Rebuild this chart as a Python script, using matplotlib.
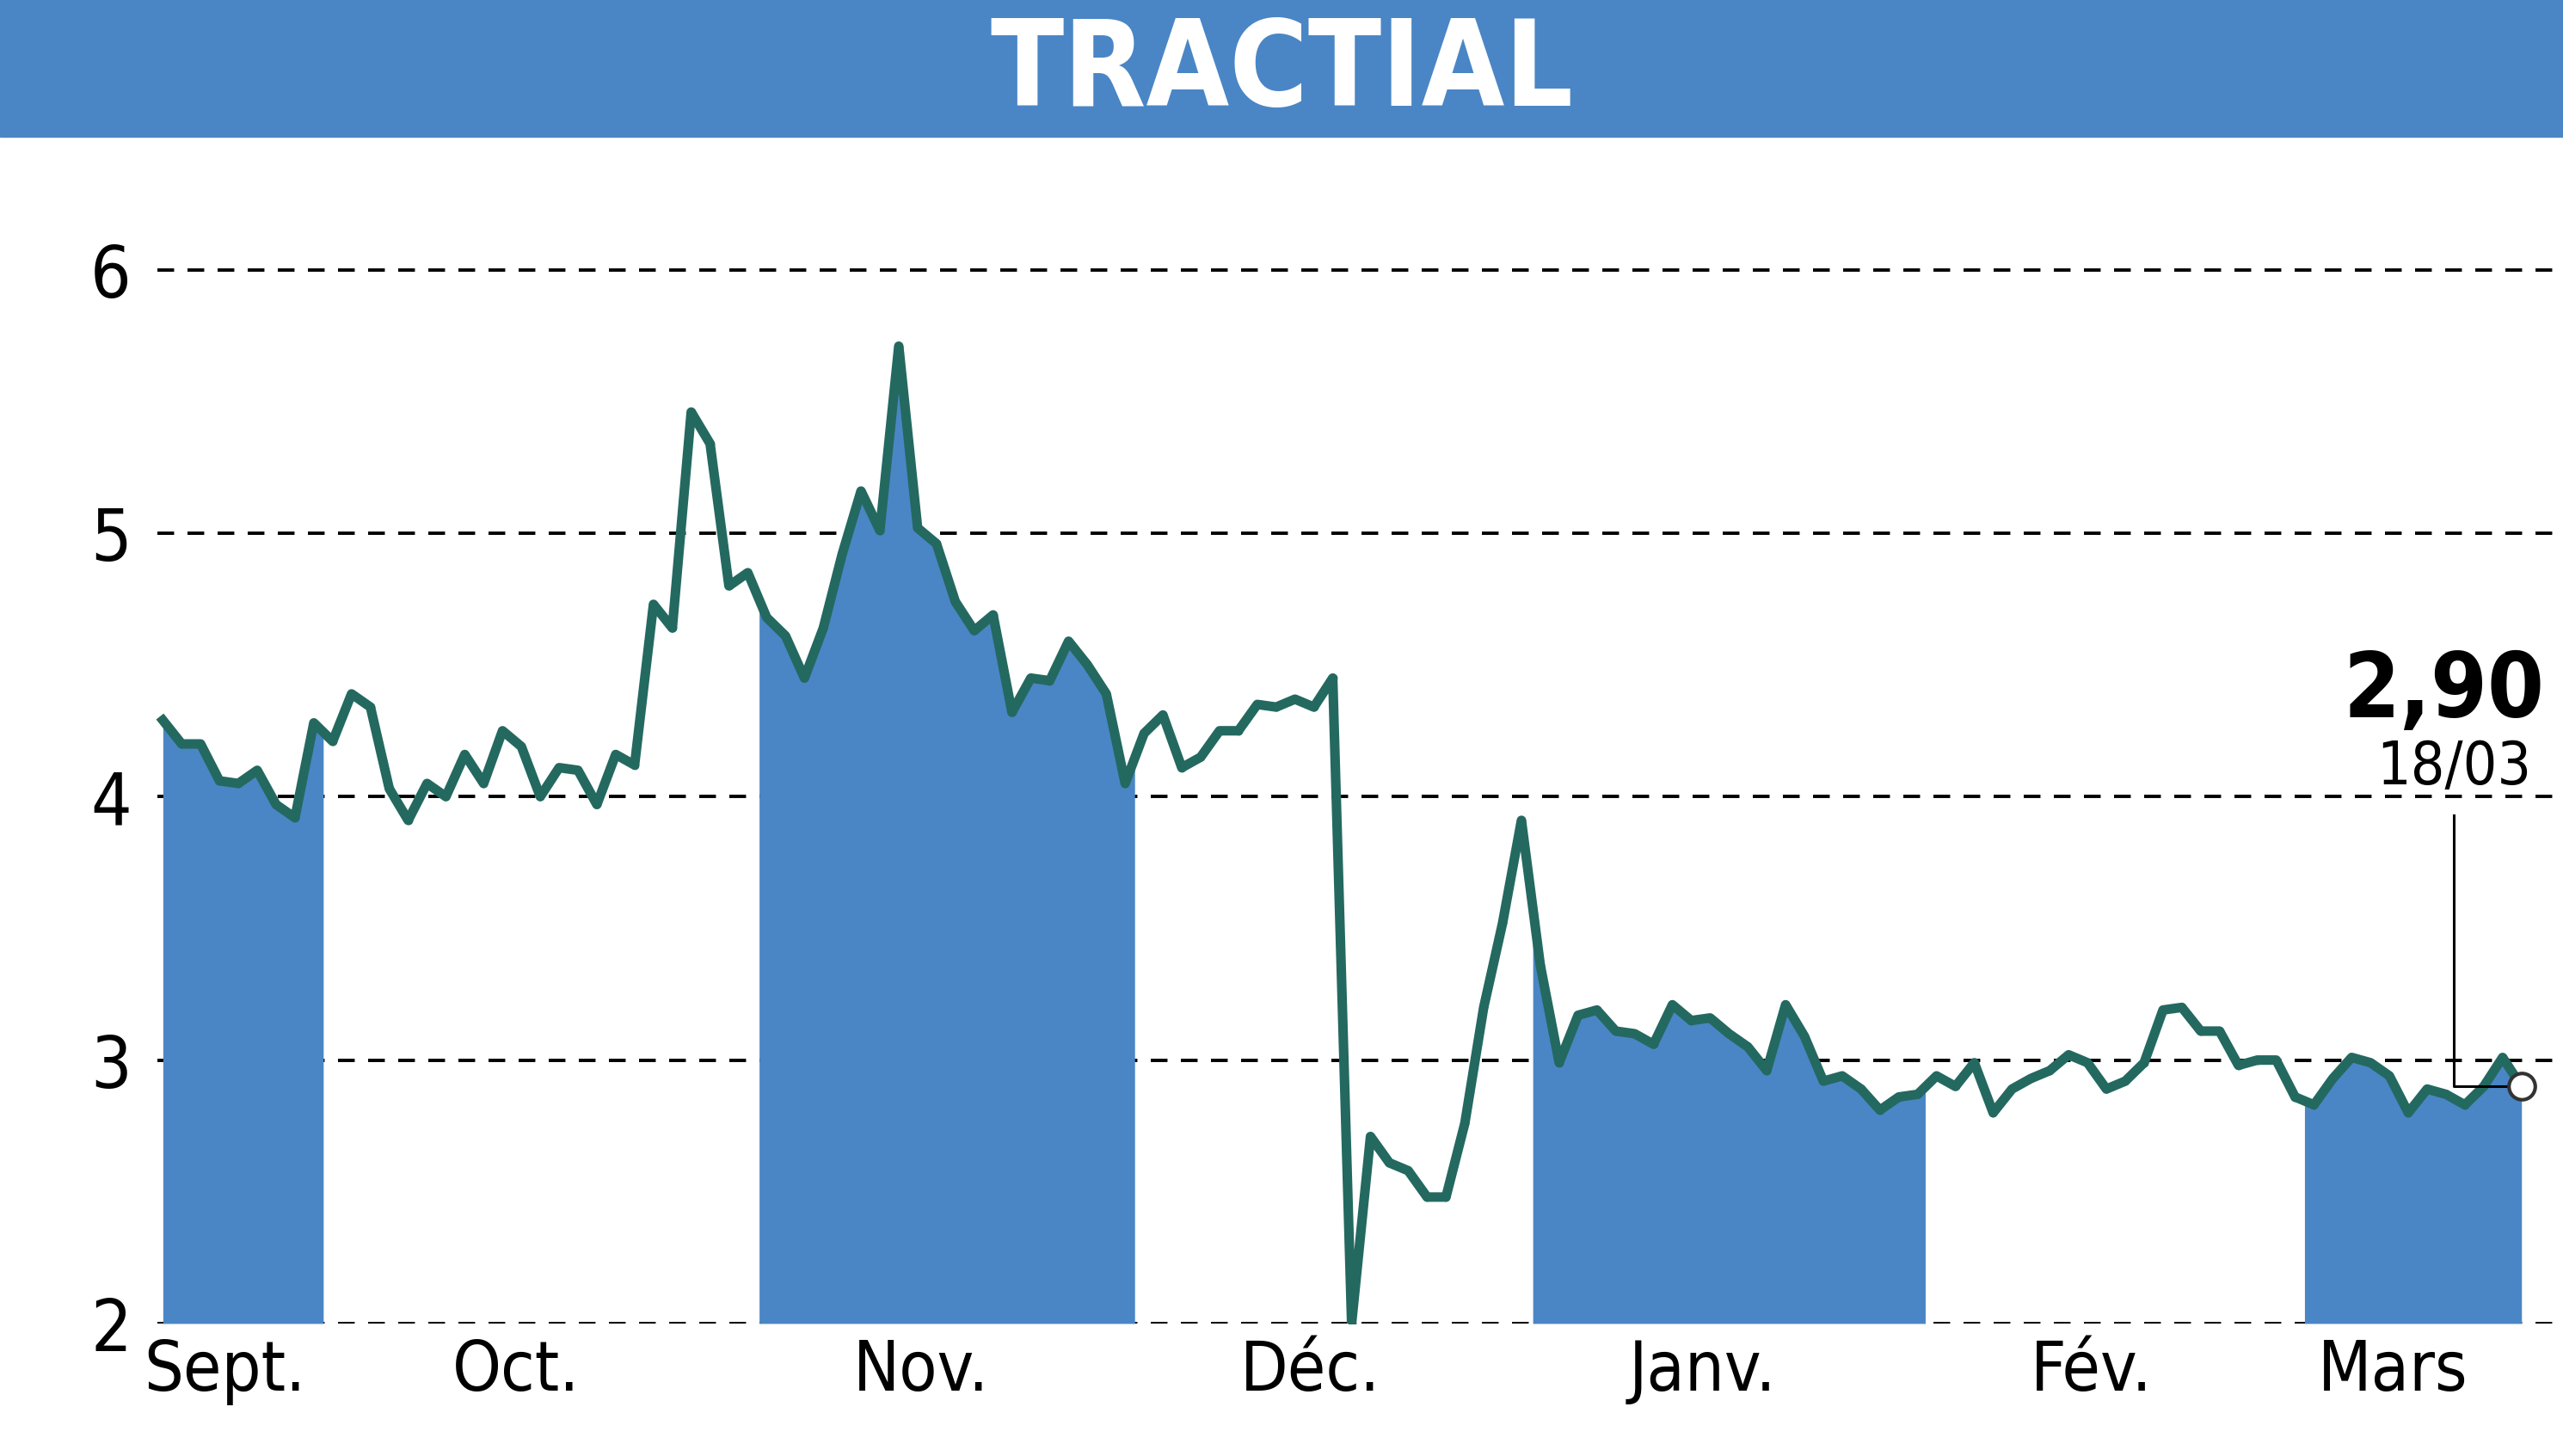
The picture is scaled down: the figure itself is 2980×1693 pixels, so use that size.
import numpy as np
import matplotlib
matplotlib.use("Agg")
import matplotlib.pyplot as plt

prices = [4.29,4.20,4.20,4.06,4.05,4.10,3.97,3.92,4.28,4.21,4.39,4.34,4.03,3.91,4.05,4.00,4.16,4.05,4.25,4.19,
          4.00,4.11,4.10,3.97,4.16,4.12,4.73,4.64,5.46,5.34,4.80,4.85,4.68,4.61,4.45,4.64,4.92,5.16,5.01,5.71,
          5.02,4.96,4.74,4.63,4.69,4.32,4.45,4.44,4.59,4.50,4.39,4.05,4.24,4.31,4.11,4.15,4.25,4.25,4.35,4.34,
          4.37,4.34,4.45,2.00,2.71,2.61,2.58,2.48,2.48,2.76,3.20,3.52,3.91,3.36,2.99,3.17,3.19,3.11,3.10,3.06,
          3.21,3.15,3.16,3.10,3.05,2.96,3.21,3.09,2.92,2.94,2.89,2.81,2.86,2.87,2.94,2.90,2.99,2.80,2.89,2.93,
          2.96,3.02,2.99,2.89,2.92,2.99,3.19,3.20,3.11,3.11,2.98,3.00,3.00,2.86,2.83,2.93,3.01,2.99,2.94,2.80,
          2.89,2.87,2.83,2.90,3.01,2.90]
months = ["Sept.","Oct.","Nov.","Déc.","Janv.","Fév.","Mars"]
month_pos = [3.3,18.7,40.2,60.8,81.6,102.2,118.2]
shaded = [(0,8.5),(31.6,51.5),(72.6,93.4),(113.5,None)]
title = "TRACTIAL"
last_label, last_date = "2,90", "18/03"

n = len(prices)
x = np.arange(n)
fill_c = "#4a86c5"; line_c = "#246960"
fig = plt.figure(figsize=(29.8,16.93), dpi=100)
fig.patches.append(plt.Rectangle((0,0.906),1,0.094,transform=fig.transFigure,color=fill_c,zorder=0))
fig.text(0.5,0.95,title,ha="center",va="center",color="white",fontsize=100,fontweight="bold",fontstretch="condensed")

ax = fig.add_axes([0.0606,0.091,0.9394,0.778])
ax.set_xlim(-0.4, n-1+2.2)
ax.set_ylim(2,6.3)
for s in ax.spines.values(): s.set_visible(False)
for yv in range(2,7):
    ax.plot([-0.3, ax.get_xlim()[1]],[yv,yv],ls=(0,(5,4)),color="black",lw=2.8,zorder=1)
for a,b in shaded:
    b = n-1 if b is None else b
    xs = np.linspace(a,b,400)
    ax.fill_between(xs,2,np.interp(xs,x,prices),color=fill_c,lw=0,zorder=2)
ax.plot(x,prices,color=line_c,lw=8,zorder=3,solid_joinstyle="round")
ax.plot(x,prices,"o",color=line_c,ms=6,zorder=3)
ax.plot([x[-1]],[prices[-1]],"o",ms=22,mfc="white",mec="#333333",mew=3,zorder=5)
ax.set_yticks(range(2,7))
ax.set_yticklabels([str(v) for v in range(2,7)],fontsize=60,fontstretch="condensed")
ax.tick_params(axis="y",length=0,pad=20)
ax.set_xticks(month_pos)
ax.set_xticklabels(months,fontsize=58,fontstretch="condensed")
ax.tick_params(axis="x",length=0,pad=12)
xa = n-1-3.6
ax.plot([xa,xa,x[-1]],[3.93,prices[-1],prices[-1]],color="black",lw=2.2,zorder=4)
ax.text(xa,4.0,last_date,ha="center",va="bottom",fontsize=50,fontstretch="condensed")
ax.text(xa-0.5,4.23,last_label,ha="center",va="bottom",fontsize=76,fontweight="bold",fontstretch="condensed")
fig.savefig("out.png",dpi=100)
